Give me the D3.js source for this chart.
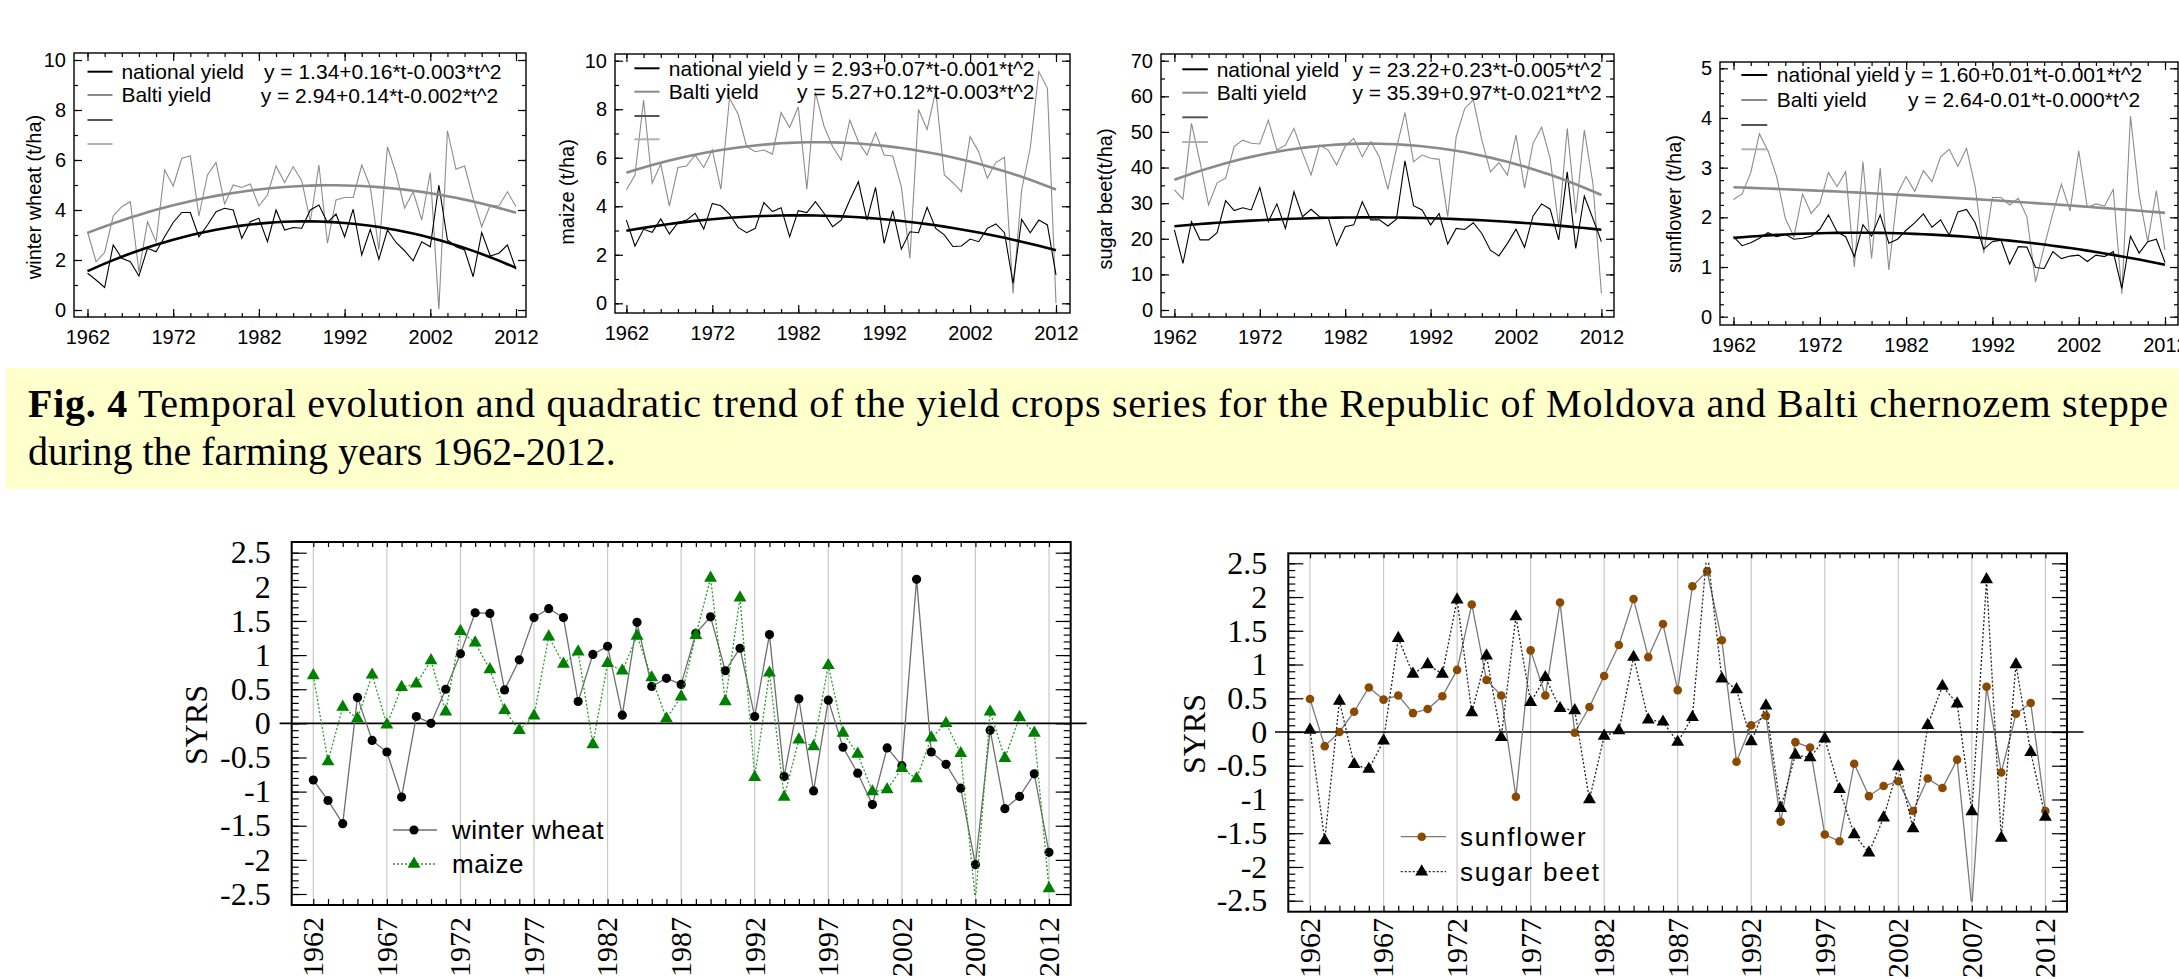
<!DOCTYPE html>
<html><head><meta charset="utf-8">
<script src="https://cdn.jsdelivr.net/npm/d3@7"></script>
<style>body{margin:0;background:#fff}svg{display:block}</style>
</head><body>
<svg id="c" width="2179" height="979"></svg>
<script>
// ---------------- DATA ----------------
const years = [1962,1963,1964,1965,1966,1967,1968,1969,1970,1971,1972,1973,1974,1975,1976,1977,1978,1979,1980,1981,
  1982,1983,1984,1985,1986,1987,1988,1989,1990,1991,1992,1993,1994,1995,1996,1997,1998,1999,2000,2001,
  2002,2003,2004,2005,2006,2007,2008,2009,2010,2011,2012];

const wheatNational = [1.47,1.2,0.9,2.6,2.07,1.93,1.36,2.47,2.33,2.93, 3.5,3.9,3.9,2.93,3.4,3.93,4.07,4.0,2.87,3.53,
  3.67,2.73,4.0,3.2,3.3,3.27,4.0,4.2,3.5,3.84, 2.93,4.03,2.2,3.23,2.03,3.2,2.7,2.37,1.97,2.73,
  2.53,5.0,2.8,2.53,2.4,1.33,3.1,2.16,2.27,2.6, 1.63];
const wheatBalti = [3.13,1.93,2.3,3.76,4.13,4.33,1.53,3.53,2.73,5.6, 4.96,6.07,6.16,3.76,5.4,5.9,4.24,5.0,4.9,5.04,
  4.16,4.6,5.76,5.1,5.73,5.17,3.53,5.8,2.67,4.4, 4.5,4.5,5.8,4.93,2.4,6.53,5.47,4.07,4.73,3.6,
  5.5,0.03,7.17,5.63,5.76,4.47,3.33,4.2,4.16,4.73, 4.13];
const maizeNational = [3.43,2.36,3.05,2.93,3.48,2.86,3.32,3.43,3.71,3.06, 4.12,4.02,3.68,3.13,2.91,3.09,4.15,3.78,3.94,2.75,
  3.82,3.74,4.19,3.71,3.16,3.43,4.26,5.01,3.43,4.78, 2.47,3.82,2.23,2.95,2.91,3.96,3.09,2.82,2.34,2.36,
  2.65,2.54,3.09,3.27,2.91,0.82,3.46,2.91,3.43,3.23, 1.17];
const maizeBalti = [4.67,5.29,8.38,4.95,5.74,4.01,5.6,5.66,6.11,5.6, 6.32,4.7,8.45,7.8,6.46,6.25,6.32,6.15,7.86,7.25,
  8.1,4.7,8.7,7.3,6.46,5.9,7.55,6.66,6.11,7.03, 6.11,6.07,4.81,1.85,7.99,7.17,8.76,5.29,4.97,4.6,
  6.87,6.25,5.15,5.8,6.02,0.41,4.67,6.39,9.55,8.86, 0.0];
const beetNational = [22.5,13.1,24.8,19.7,19.7,21.7,30.7,27.9,28.7,28.1, 34.4,24.8,29.8,22.9,33.2,26.2,28.3,26.2,26.0,18.1,
  23.4,23.9,30.4,25.3,25.3,23.6,25.5,41.9,29.3,28.1, 23.9,27.1,18.5,22.9,22.6,24.5,21.5,16.8,15.2,18.7,
  22.7,17.6,26.4,29.8,28.3,19.7,38.8,17.3,32.0,25.7, 19.2];
const beetBalti = [33.7,31.1,52.4,41.6,29.5,35.7,37.0,45.9,47.7,46.8, 46.6,53.3,44.9,46.3,51.0,44.2,37.9,46.3,44.9,40.7,
  46.0,48.2,43.0,47.3,43.0,33.9,45.4,55.4,41.6,43.5, 42.6,42.3,26.2,48.7,56.6,59.0,47.7,38.8,41.4,37.9,
  49.1,34.2,46.8,51.3,42.6,23.4,51.0,27.1,50.5,35.6, 4.7];
const sunNational = [1.61,1.43,1.49,1.58,1.69,1.61,1.66,1.56,1.58,1.62, 1.76,2.05,1.71,1.61,1.21,1.85,1.62,2.05,1.48,1.56,
  1.74,1.89,2.07,1.8,1.95,1.64,2.11,2.16,1.89,1.36, 1.51,1.54,1.06,1.41,1.4,0.99,0.97,1.31,1.17,1.22,
  1.24,1.11,1.24,1.21,1.31,0.57,1.62,1.28,1.51,1.56, 1.09];
const sunBalti = [2.36,2.47,2.9,3.68,3.34,2.82,1.98,1.61,2.47,2.08, 2.28,2.9,2.62,2.92,1.0,3.12,1.17,2.99,0.94,2.48,
  2.82,2.52,2.94,2.72,3.22,3.37,3.03,3.39,2.62,1.28, 2.4,2.4,2.25,2.38,2.01,0.7,1.41,2.08,2.67,2.13,
  3.34,2.2,2.27,2.23,2.56,0.46,4.04,2.45,1.51,2.54, 1.34];

const syrsWheat = [-0.83,-1.13,-1.47,0.38,-0.25,-0.42,-1.08,0.10,0.0,0.50, 1.02,1.62,1.61,0.49,0.93,1.55,1.68,1.55,0.32,1.01,
  1.13,0.12,1.48,0.54,0.66,0.57,1.32,1.56,0.77,1.1, 0.1,1.3,-0.78,0.36,-0.99,0.34,-0.35,-0.73,-1.19,-0.36,
  -0.62,2.11,-0.42,-0.6,-0.95,-2.07,-0.1,-1.25,-1.07,-0.74, -1.89];
const syrsMaize = [0.70,-0.56,0.24,0.07,0.71,-0.02,0.53,0.58,0.92,0.17, 1.35,1.18,0.79,0.19,-0.1,0.11,1.27,0.87,1.05,-0.31,
  0.88,0.77,1.28,0.67,0.07,0.39,1.29,2.13,0.32,1.84, -0.79,0.74,-1.08,-0.24,-0.34,0.85,-0.14,-0.45,-1.0,-0.97,
  -0.66,-0.81,-0.21,0.0,-0.44,-2.6,0.17,-0.51,0.09,-0.14, -2.42];
const syrsSunflower = [0.49,-0.21,0.0,0.30,0.66,0.48,0.54,0.28,0.34,0.53, 0.92,1.89,0.77,0.54,-0.96,1.21,0.54,1.92,-0.01,0.37,
  0.83,1.29,1.97,1.11,1.60,0.62,2.16,2.38,1.36,-0.44, 0.10,0.24,-1.33,-0.15,-0.23,-1.52,-1.62,-0.47,-0.95,-0.80,
  -0.73,-1.17,-0.69,-0.83,-0.41,-2.6,0.67,-0.6,0.27,0.43, -1.17];
const syrsBeet = [0.03,-1.61,0.46,-0.48,-0.55,-0.13,1.39,0.86,1.0,0.86, 1.96,0.29,1.13,-0.08,1.71,0.44,0.81,0.35,0.32,-1.0,
  -0.06,0.02,1.11,0.18,0.15,-0.15,0.22,2.7,0.79,0.63, -0.14,0.39,-1.13,-0.34,-0.38,-0.10,-0.85,-1.52,-1.79,-1.27,
  -0.51,-1.43,0.10,0.68,0.42,-1.18,2.26,-1.57,1.0,-0.30, -1.26];

const cropLabels = ["winter wheat (t/ha)", "maize (t/ha)", "sugar beet(t/ha)", "sunflower (t/ha)"];
const legendNames = ["national yield", "Balti yield"];
const eqNational = ["y = 1.34+0.16*t-0.003*t^2", "y = 2.93+0.07*t-0.001*t^2", "y = 23.22+0.23*t-0.005*t^2", "y = 1.60+0.01*t-0.001*t^2"];
const eqBalti = ["y = 2.94+0.14*t-0.002*t^2", "y = 5.27+0.12*t-0.003*t^2", "y = 35.39+0.97*t-0.021*t^2", "y = 2.64-0.01*t-0.000*t^2"];
const topYearTicks = [1962,1972,1982,1992,2002,2012];
const yTicksWheat = [0,2,4,6,8,10];
const yTicksMaize = [0,2,4,6,8,10];
const yTicksBeet = [0,10,20,30,40,50,60,70];
const yTicksSun = [0,1,2,3,4,5];
const syrsTicks = [-2.5,-2,-1.5,-1,-0.5,0,0.5,1,1.5,2,2.5];
const bottomYearLabels = [1962,1967,1972,1977,1982,1987,1992,1997,2002,2007,2012];
const syrsSeriesNames = ["winter wheat","maize","sunflower","sugar beet"];
const captionBold = "Fig. 4";
const captionLine1 = " Temporal evolution and quadratic trend of the yield crops series for the Republic of Moldova and Balti chernozem steppe";
const captionLine2 = "during the farming years 1962-2012.";

// ---------------- HELPERS ----------------
const SANS = "'Liberation Sans', Arial, Helvetica, sans-serif";
const SERIF = "'Liberation Serif', 'Times New Roman', Times, serif";
const svg = d3.select('#c');

function quadFit(ts, vs){
  const A=[[0,0,0],[0,0,0],[0,0,0]], b=[0,0,0];
  ts.forEach((t,i)=>{const p=[1,t,t*t];for(let r=0;r<3;r++){b[r]+=p[r]*vs[i];for(let c=0;c<3;c++)A[r][c]+=p[r]*p[c];}});
  for(let i=0;i<3;i++){for(let k=i+1;k<3;k++){const f=A[k][i]/A[i][i];for(let j=i;j<3;j++)A[k][j]-=f*A[i][j];b[k]-=f*b[i];}}
  const c=[0,0,0];
  for(let i=2;i>=0;i--){let s=b[i];for(let j=i+1;j<3;j++)s-=A[i][j]*c[j];c[i]=s/A[i][i];}
  return t=>c[0]+c[1]*t+c[2]*t*t;
}
function cleanAxis(sel, font, size){
  sel.select('.domain').remove();
  sel.selectAll('line').attr('stroke','#000').attr('stroke-width',1.2);
  sel.selectAll('text').attr('font-family',font).attr('font-size',size).attr('fill','#000');
}
function minorRange(a,b,s){const out=[];for(let v=a;v<=b+1e-9;v+=s)out.push(+v.toFixed(4));return out;}

// ---------------- TOP PANELS ----------------
const topPanels = [
  {frame:[74,53,526,317], xr:[87.5,516], yd:[0,10], yr:[310,60], ticks:yTicksWheat, minor:1,
   nat:wheatNational, bal:wheatBalti, lab:[34,197],
   leg:{lx:[87.5,112.5], tx:121.4, rows:[71.7,95,120,144], ex:[264,260.7], ey:[71.7,96]}},
  {frame:[615,54,1070,313], xr:[626.4,1056], yd:[0,10], yr:[303.3,60.7], ticks:yTicksMaize, minor:1,
   nat:maizeNational, bal:maizeBalti, lab:[567,192],
   leg:{lx:[634.4,659.5], tx:668.8, rows:[68.3,91.7,116,139.3], ex:[797,797], ey:[68.3,92]}},
  {frame:[1161,54,1614,317], xr:[1174.4,1601.4], yd:[0,70], yr:[310,60.7], ticks:yTicksBeet, minor:5,
   nat:beetNational, bal:beetBalti, lab:[1104.5,199],
   leg:{lx:[1182.3,1207.8], tx:1216.7, rows:[69.3,92.7,117.3,142], ex:[1352.4,1352.4], ey:[69.3,93]}},
  {frame:[1720,62,2178,325], xr:[1733.5,2165], yd:[0,5], yr:[316.7,68.3], ticks:yTicksSun, minor:0.25,
   nat:sunNational, bal:sunBalti, lab:[1674.4,204],
   leg:{lx:[1741.4,1767.2], tx:1776.8, rows:[75,100,125,149.3], ex:[1904.7,1908], ey:[75,100]}}
];

topPanels.forEach((p,i)=>{
  const g = svg.append('g');
  const [fl,ft,fr,fb] = p.frame;
  const x = d3.scaleLinear().domain([1962,2012]).range(p.xr);
  const y = d3.scaleLinear().domain(p.yd).range(p.yr);
  const fs = 20;
  const minorY = minorRange(p.yd[0], p.yd[1], p.minor);
  const minorX = minorRange(1962, 2012, 2);
  g.append('g').attr('transform',`translate(${fl},0)`)
    .call(d3.axisLeft(y).tickValues(p.ticks).tickSizeInner(-8).tickSizeOuter(0).tickPadding(8).tickFormat(d=>String(d)))
    .call(s=>cleanAxis(s,SANS,fs));
  g.append('g').attr('transform',`translate(${fl},0)`)
    .call(d3.axisLeft(y).tickValues(minorY).tickSizeInner(-4).tickSizeOuter(0).tickFormat(''))
    .call(s=>cleanAxis(s,SANS,fs));
  g.append('g').attr('transform',`translate(${fr},0)`)
    .call(d3.axisRight(y).tickValues(p.ticks).tickSizeInner(-8).tickSizeOuter(0).tickFormat(''))
    .call(s=>cleanAxis(s,SANS,fs));
  g.append('g').attr('transform',`translate(${fr},0)`)
    .call(d3.axisRight(y).tickValues(minorY).tickSizeInner(-4).tickSizeOuter(0).tickFormat(''))
    .call(s=>cleanAxis(s,SANS,fs));
  g.append('g').attr('transform',`translate(0,${fb})`)
    .call(d3.axisBottom(x).tickValues(topYearTicks).tickSizeInner(-8).tickSizeOuter(0).tickPadding(13).tickFormat(d=>String(d)))
    .call(s=>cleanAxis(s,SANS,fs));
  g.append('g').attr('transform',`translate(0,${fb})`)
    .call(d3.axisBottom(x).tickValues(minorX).tickSizeInner(-4).tickSizeOuter(0).tickFormat(''))
    .call(s=>cleanAxis(s,SANS,fs));
  g.append('g').attr('transform',`translate(0,${ft})`)
    .call(d3.axisTop(x).tickValues(topYearTicks).tickSizeInner(-8).tickSizeOuter(0).tickFormat(''))
    .call(s=>cleanAxis(s,SANS,fs));
  g.append('g').attr('transform',`translate(0,${ft})`)
    .call(d3.axisTop(x).tickValues(minorX).tickSizeInner(-4).tickSizeOuter(0).tickFormat(''))
    .call(s=>cleanAxis(s,SANS,fs));
  g.append('rect').attr('x',fl).attr('y',ft).attr('width',fr-fl).attr('height',fb-ft)
    .attr('fill','none').attr('stroke','#000').attr('stroke-width',1.4);

  g.append('text').attr('transform',`translate(${p.lab[0]},${p.lab[1]}) rotate(-90)`)
    .attr('text-anchor','middle').attr('dy','0.35em')
    .attr('font-family',SANS).attr('font-size',20).text(cropLabels[i]);

  const line = d3.line().x((d,j)=>x(years[j])).y(d=>y(d));
  const ts = years.map(t=>t-1961);
  const fN = quadFit(ts, p.nat), fB = quadFit(ts, p.bal);
  const trendN = ts.map(fN), trendB = ts.map(fB);

  g.append('path').attr('d',line(p.bal)).attr('fill','none').attr('stroke','#8c8c8c').attr('stroke-width',1.1);
  g.append('path').attr('d',line(p.nat)).attr('fill','none').attr('stroke','#000').attr('stroke-width',1.1);
  g.append('path').attr('d',line(trendB)).attr('fill','none').attr('stroke','#8a8a8a').attr('stroke-width',2.6);
  g.append('path').attr('d',line(trendN)).attr('fill','none').attr('stroke','#000').attr('stroke-width',2.6);

  const L = p.leg;
  const legCols = ['#000','#8a8a8a','#555','#b0b0b0'];
  L.rows.forEach((ry,k)=>{
    g.append('line').attr('x1',L.lx[0]).attr('x2',L.lx[1]).attr('y1',ry).attr('y2',ry)
      .attr('stroke',legCols[k]).attr('stroke-width',2);
    if(k<2) g.append('text').attr('x',L.tx).attr('y',ry).attr('dy','0.35em')
      .attr('font-family',SANS).attr('font-size',21).text(legendNames[k]);
  });
  [eqNational[i], eqBalti[i]].forEach((eq,k)=>{
    g.append('text').attr('x',L.ex[k]).attr('y',L.ey[k]).attr('dy','0.35em')
      .attr('font-family',SANS).attr('font-size',21).text(eq);
  });
});

// ---------------- CAPTION ----------------
svg.append('rect').attr('x',6).attr('y',368).attr('width',2173).attr('height',121).attr('fill','#FFFFCC');
const cap1 = svg.append('text').attr('x',28).attr('y',417).attr('font-family',SERIF).attr('font-size',40)
  .attr('textLength',2140).attr('lengthAdjust','spacing');
cap1.append('tspan').attr('font-weight','bold').text(captionBold);
cap1.append('tspan').text(captionLine1);
svg.append('text').attr('x',28).attr('y',465).attr('font-family',SERIF).attr('font-size',40).text(captionLine2);

// ---------------- BOTTOM CHARTS ----------------
const bottoms = [
  {frame:[291.7,542,1070.7,905], xr:[313.3,1049], yr:[894,552.7], zero:[279.6,1086.7], lab:[195.7,725], yearTop:917,
   series:[{name:syrsSeriesNames[0], data:syrsWheat, line:'#6e6e6e', dash:null, sym:d3.symbolCircle, size:66, fill:'#000'},
           {name:syrsSeriesNames[1], data:syrsMaize, line:'#2a9a2a', dash:'2,2', sym:d3.symbolTriangle, size:72, fill:'#008000'}],
   leg:{lx:[393,437], mx:414, tx:452, rows:[830,864], ls:0.5}},
  {frame:[1288.3,553.3,2067,911.7], xr:[1310,2045.4], yr:[900.7,563.3], zero:[1275,2083.5], lab:[1193.3,734], yearTop:918,
   series:[{name:syrsSeriesNames[2], data:syrsSunflower, line:'#7a7a7a', dash:null, sym:d3.symbolCircle, size:58, fill:'#8B4A00'},
           {name:syrsSeriesNames[3], data:syrsBeet, line:'#222', dash:'2,2', sym:d3.symbolTriangle, size:72, fill:'#000'}],
   leg:{lx:[1400.7,1446], mx:1421.7, tx:1460, rows:[836.7,871.7], ls:1.8}}
];

bottoms.forEach((b,bi)=>{
  const g = svg.append('g');
  const [fl,ft,fr,fb] = b.frame;
  const x = d3.scaleLinear().domain([1962,2012]).range(b.xr);
  const y = d3.scaleLinear().domain([-2.5,2.5]).range(b.yr);
  g.selectAll('line.grid').data(bottomYearLabels).join('line')
    .attr('x1',d=>x(d)).attr('x2',d=>x(d)).attr('y1',ft).attr('y2',fb)
    .attr('stroke','#c8c8c8').attr('stroke-width',1.2);
  const minorY = minorRange(-2.5,2.5,0.1);
  const FS = 32;
  g.append('g').attr('transform',`translate(${fl},0)`)
    .call(d3.axisLeft(y).tickValues(syrsTicks).tickSizeInner(-15).tickSizeOuter(0).tickPadding(21).tickFormat(d=>String(d)))
    .call(s=>cleanAxis(s,SERIF,FS));
  g.append('g').attr('transform',`translate(${fl},0)`)
    .call(d3.axisLeft(y).tickValues(minorY).tickSizeInner(-7).tickSizeOuter(0).tickFormat(''))
    .call(s=>cleanAxis(s,SERIF,FS));
  g.append('g').attr('transform',`translate(${fr},0)`)
    .call(d3.axisRight(y).tickValues(syrsTicks).tickSizeInner(-15).tickSizeOuter(0).tickFormat(''))
    .call(s=>cleanAxis(s,SERIF,FS));
  g.append('g').attr('transform',`translate(${fr},0)`)
    .call(d3.axisRight(y).tickValues(minorY).tickSizeInner(-7).tickSizeOuter(0).tickFormat(''))
    .call(s=>cleanAxis(s,SERIF,FS));
  g.append('g').attr('transform',`translate(0,${ft})`)
    .call(d3.axisTop(x).tickValues(years).tickSizeInner(-5).tickSizeOuter(0).tickFormat(''))
    .call(s=>cleanAxis(s,SERIF,FS));
  g.append('g').attr('transform',`translate(0,${fb})`)
    .call(d3.axisBottom(x).tickValues(years).tickSizeInner(-6).tickSizeOuter(0).tickFormat(''))
    .call(s=>cleanAxis(s,SERIF,FS));
  g.append('rect').attr('x',fl).attr('y',ft).attr('width',fr-fl).attr('height',fb-ft)
    .attr('fill','none').attr('stroke','#000').attr('stroke-width',2);
  g.append('line').attr('x1',b.zero[0]).attr('x2',b.zero[1]).attr('y1',y(0)).attr('y2',y(0))
    .attr('stroke','#000').attr('stroke-width',1.6);
  g.selectAll('text.yr').data(bottomYearLabels).join('text')
    .attr('transform',d=>`translate(${x(d)},${b.yearTop}) rotate(-90)`)
    .attr('text-anchor','end').attr('dy','0.33em')
    .attr('font-family',SERIF).attr('font-size',30).text(d=>String(d));
  g.append('text').attr('transform',`translate(${b.lab[0]},${b.lab[1]}) rotate(-90)`)
    .attr('text-anchor','middle').attr('dy','0.35em')
    .attr('font-family',SERIF).attr('font-size',32).text('SYRS');
  const cid = 'clip'+bi;
  svg.append('clipPath').attr('id',cid).append('rect')
    .attr('x',fl).attr('y',y(2.5)-1).attr('width',fr-fl).attr('height',y(-2.5)-y(2.5)+2);
  const pg = g.append('g').attr('clip-path',`url(#${cid})`);
  const line = d3.line().x((d,j)=>x(years[j])).y(d=>y(d));
  b.series.forEach(s=>{
    pg.append('path').attr('d',line(s.data)).attr('fill','none').attr('stroke',s.line)
      .attr('stroke-width',1.3).attr('stroke-dasharray',s.dash);
    pg.selectAll(null).data(s.data).join('path')
      .attr('transform',(d,j)=>`translate(${x(years[j])},${y(d)})`)
      .attr('d',d3.symbol().type(s.sym).size(s.size)).attr('fill',s.fill);
  });
  const L = b.leg;
  b.series.forEach((s,k)=>{
    const ry = L.rows[k];
    g.append('line').attr('x1',L.lx[0]).attr('x2',L.lx[1]).attr('y1',ry).attr('y2',ry)
      .attr('stroke',s.line).attr('stroke-width',1.3).attr('stroke-dasharray',s.dash);
    g.append('path').attr('transform',`translate(${L.mx},${ry})`).attr('d',d3.symbol().type(s.sym).size(s.size)).attr('fill',s.fill);
    g.append('text').attr('x',L.tx).attr('y',ry).attr('dy','0.35em')
      .attr('font-family',SANS).attr('font-size',26).attr('letter-spacing',L.ls).text(s.name);
  });
});
</script>
</body></html>
